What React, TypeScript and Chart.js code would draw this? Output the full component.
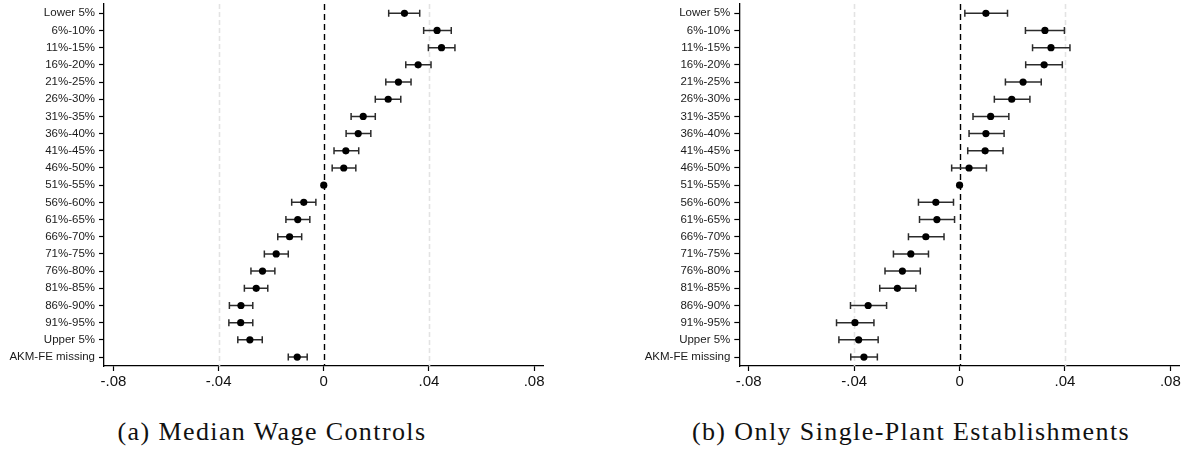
import React, { useEffect, useRef } from "react";
import { Chart, registerables } from "chart.js";

Chart.register(...registerables);

// Wage-percentile groups, top to bottom
const categories = [
  "Lower 5%", "6%-10%", "11%-15%", "16%-20%", "21%-25%", "26%-30%", "31%-35%",
  "36%-40%", "41%-45%", "46%-50%", "51%-55%", "56%-60%", "61%-65%", "66%-70%",
  "71%-75%", "76%-80%", "81%-85%", "86%-90%", "91%-95%", "Upper 5%", "AKM-FE missing",
];

// (a) Median wage controls: point estimates and 95% CI bounds
const coefA = [0.0307, 0.0431, 0.0448, 0.0359, 0.0284, 0.0245, 0.0150, 0.0131, 0.0084, 0.0076, 0,
  -0.0076, -0.0099, -0.0130, -0.0181, -0.0233, -0.0257, -0.0315, -0.0316, -0.0281, -0.0101];
const loA = [0.0247, 0.0380, 0.0398, 0.0312, 0.0236, 0.0196, 0.0104, 0.0085, 0.0039, 0.0032, null,
  -0.0122, -0.0144, -0.0175, -0.0226, -0.0277, -0.0302, -0.0359, -0.0361, -0.0327, -0.0135];
const hiA = [0.0365, 0.0485, 0.0499, 0.0408, 0.0332, 0.0293, 0.0196, 0.0179, 0.0133, 0.0122, null,
  -0.0030, -0.0053, -0.0084, -0.0135, -0.0186, -0.0213, -0.0270, -0.0270, -0.0234, -0.0063];

// (b) Only single-plant establishments
const coefB = [0.0100, 0.0324, 0.0347, 0.0321, 0.0241, 0.0198, 0.0118, 0.0100, 0.0097, 0.0036, 0,
  -0.0090, -0.0086, -0.0128, -0.0185, -0.0217, -0.0236, -0.0347, -0.0397, -0.0383, -0.0363];
const loB = [0.0020, 0.0250, 0.0277, 0.0251, 0.0174, 0.0132, 0.0051, 0.0036, 0.0031, -0.0030, null,
  -0.0156, -0.0152, -0.0194, -0.0251, -0.0283, -0.0303, -0.0414, -0.0467, -0.0458, -0.0413];
const hiB = [0.0182, 0.0398, 0.0419, 0.0390, 0.0310, 0.0267, 0.0187, 0.0169, 0.0165, 0.0102, null,
  -0.0023, -0.0019, -0.0059, -0.0118, -0.0149, -0.0166, -0.0277, -0.0325, -0.0309, -0.0312];

const xTickValues = [-0.08, -0.04, 0, 0.04, 0.08];
const xTickLabels = ["-.08", "-.04", "0", ".04", ".08"];
const xGridValues = [-0.04, 0.04];
const xRefLine = 0;

type Panel = {
  coef: number[];
  lo: (number | null)[];
  hi: (number | null)[];
};

function makeChart(canvas: HTMLCanvasElement, p: Panel, yAxisWidth: number, rightPad: number) {
  const refLines = {
    id: "refLines",
    beforeDatasetsDraw(chart: any) {
      const { ctx, chartArea, scales } = chart;
      const x = scales.x;
      ctx.save();
      ctx.strokeStyle = "#e3e3e3";
      ctx.lineWidth = 1.6;
      ctx.setLineDash([5, 3]);
      for (const v of xGridValues) {
        const px = Math.round(x.getPixelForValue(v)) + 0.5;
        ctx.beginPath();
        ctx.moveTo(px, chartArea.top);
        ctx.lineTo(px, chartArea.bottom);
        ctx.stroke();
      }
      ctx.strokeStyle = "#000";
      ctx.lineWidth = 1.4;
      ctx.setLineDash([6, 4]);
      const z = Math.round(x.getPixelForValue(xRefLine)) + 0.5;
      ctx.beginPath();
      ctx.moveTo(z, chartArea.top);
      ctx.lineTo(z, chartArea.bottom);
      ctx.stroke();
      ctx.setLineDash([]);

      // confidence intervals with end caps
      const y = scales.y;
      ctx.strokeStyle = "#2b2b2b";
      ctx.lineWidth = 1.5;
      const cap = 3.5;
      p.coef.forEach((_, i) => {
        const lo = p.lo[i];
        const hi = p.hi[i];
        if (lo == null || hi == null) return;
        const py = y.getPixelForValue(i);
        const x0 = x.getPixelForValue(lo);
        const x1 = x.getPixelForValue(hi);
        ctx.beginPath();
        ctx.moveTo(x0, py);
        ctx.lineTo(x1, py);
        ctx.moveTo(x0, py - cap);
        ctx.lineTo(x0, py + cap);
        ctx.moveTo(x1, py - cap);
        ctx.lineTo(x1, py + cap);
        ctx.stroke();
      });
      ctx.restore();
    },
  };

  return new Chart(canvas, {
    type: "scatter",
    data: {
      datasets: [
        {
          data: p.coef.map((c, i) => ({ x: c, y: i })),
          backgroundColor: "#000",
          borderColor: "#000",
          borderWidth: 0,
          pointRadius: 3.6,
        },
      ],
    },
    options: {
      responsive: false,
      animation: false,
      devicePixelRatio: 1,
      layout: { padding: { top: 4, right: rightPad, left: 0, bottom: 0 } },
      plugins: { legend: { display: false }, tooltip: { enabled: false } },
      scales: {
        x: {
          type: "linear",
          min: -0.0836,
          max: 0.0834,
          afterBuildTicks: (axis: any) => {
            axis.ticks = xTickValues.map((v) => ({ value: v }));
          },
          afterFit: (axis: any) => {
            axis.height = 30;
            axis.paddingLeft = 0;
            axis.paddingRight = 0;
          },
          ticks: {
            autoSkip: false,
            maxRotation: 0,
            padding: 2,
            color: "#111",
            font: { family: "'Liberation Sans', Arial, sans-serif", size: 15 },
            callback: (v: any) => {
              const k = xTickValues.findIndex((t) => Math.abs(t - Number(v)) < 1e-9);
              return k >= 0 ? xTickLabels[k] : "";
            },
          },
          grid: {
            drawOnChartArea: false,
            drawTicks: true,
            tickLength: 5,
            tickColor: "#000",
            tickWidth: 1.2,
          },
          border: { display: true, color: "#000", width: 1.3 },
        },
        y: {
          type: "linear",
          reverse: true,
          min: -0.54,
          max: 20.52,
          afterBuildTicks: (axis: any) => {
            axis.ticks = categories.map((_, i) => ({ value: i }));
          },
          afterFit: (axis: any) => {
            axis.width = yAxisWidth;
            axis.paddingTop = 0;
            axis.paddingBottom = 0;
          },
          ticks: {
            autoSkip: false,
            padding: 4,
            color: "#1a1a1a",
            font: { family: "'Liberation Sans', Arial, sans-serif", size: 11.5 },
            callback: (v: any) => categories[Number(v)] ?? "",
          },
          grid: {
            drawOnChartArea: false,
            drawTicks: true,
            tickLength: 5,
            tickColor: "#000",
            tickWidth: 1.2,
          },
          border: { display: true, color: "#000", width: 1.3 },
        },
      },
    },
    plugins: [refLines],
  });
}

export default function App() {
  const refA = useRef<HTMLCanvasElement | null>(null);
  const refB = useRef<HTMLCanvasElement | null>(null);

  useEffect(() => {
    const a = makeChart(refA.current!, { coef: coefA, lo: loA, hi: hiA }, 104, 17);
    const b = makeChart(refB.current!, { coef: coefB, lo: loB, hi: hiB }, 109.3, 10.7);
    return () => {
      a.destroy();
      b.destroy();
    };
  }, []);

  const caption: React.CSSProperties = {
    position: "absolute",
    top: 416,
    width: 560,
    textAlign: "center",
    fontFamily: "'Liberation Serif', 'DejaVu Serif', serif",
    fontSize: 26,
    letterSpacing: "1.4px",
    color: "#111",
    whiteSpace: "nowrap",
    lineHeight: "32px",
  };

  return (
    <div style={{ position: "absolute", left: 0, top: 0, width: 1190, height: 456, background: "#fff" }}>
      <canvas ref={refA} width={560} height={396} style={{ position: "absolute", left: 0, top: 0, display: "block" }} />
      <canvas ref={refB} width={560} height={396} style={{ position: "absolute", left: 630, top: 0, display: "block" }} />
      <div style={{ ...caption, left: 272 - 280 }}>(a) Median Wage Controls</div>
      <div style={{ ...caption, left: 911 - 280 }}>(b) Only Single-Plant Establishments</div>
    </div>
  );
}
